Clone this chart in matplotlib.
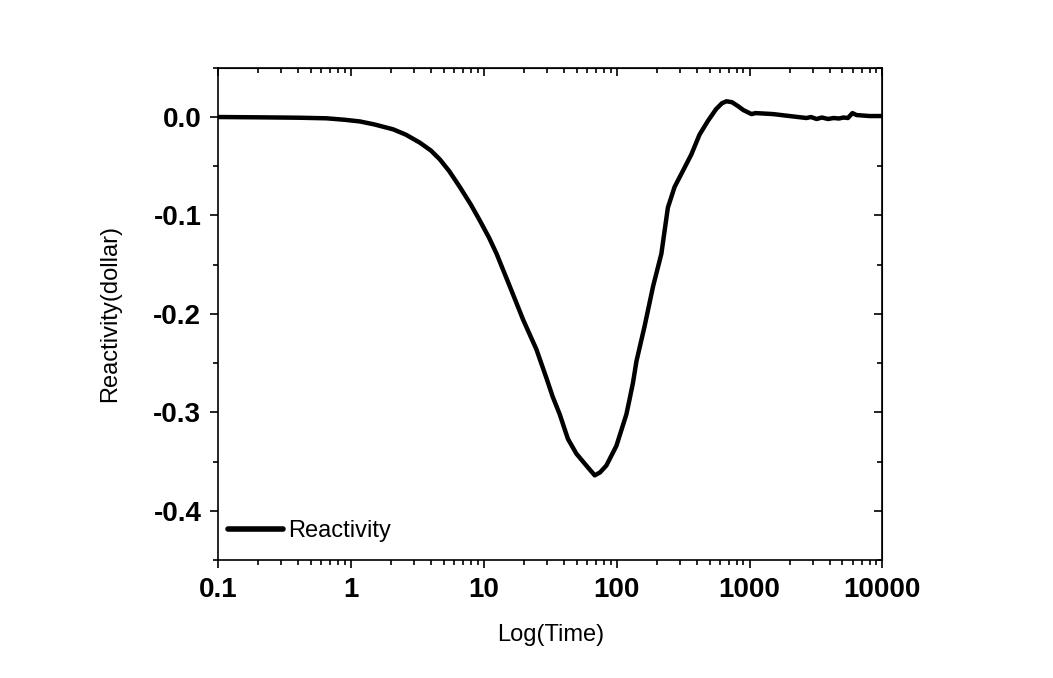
import numpy as np
import matplotlib
matplotlib.use("Agg")
import matplotlib.pyplot as plt
from matplotlib.ticker import LogLocator, MultipleLocator, FixedLocator, FixedFormatter

# reactivity transient (time in s, reactivity in dollars)
time = [0.1, 0.2, 0.4, 0.656, 0.9, 1.17, 1.5, 2.08, 2.6, 3.3, 4.0, 4.67,
        5.5, 6.6, 8.0, 9.33, 11.0, 12.5, 15.7, 19.8, 24.9, 29.6, 33.0,
        37.3, 43.0, 49.8, 59.1, 68.4, 75.0, 83.7, 99.6, 118.4, 125.0,
        132.7, 141.0, 162.0, 188.0, 217.0, 243.0, 273.0, 320.0, 365.0,
        420.0, 486.0, 560.0, 620.0, 671.0, 740.0, 820.0, 900.0, 1035.0,
        1110.0, 1500.0, 2000.0, 2680.0, 2900.0, 3200.0, 3500.0, 3900.0,
        4300.0, 4700.0, 5100.0, 5500.0, 5950.0, 6380.0, 8000.0, 10000.0]
reactivity = [0.000, -0.0003, -0.0007, -0.0013, -0.0028, -0.0045, -0.0075,
              -0.0125, -0.018, -0.026, -0.034, -0.043,
              -0.055, -0.071, -0.089, -0.105, -0.123, -0.139, -0.172,
              -0.206, -0.236, -0.265, -0.284,
              -0.302, -0.327, -0.342, -0.354, -0.364, -0.361, -0.354,
              -0.334, -0.302, -0.287,
              -0.270, -0.248, -0.213, -0.172, -0.139, -0.092, -0.071,
              -0.053, -0.038,
              -0.018, -0.004, 0.008, 0.014, 0.016, 0.015, 0.011, 0.007,
              0.003, 0.004, 0.003, 0.001, -0.001, 0.000, -0.002,
              -0.0005, -0.002, -0.001, -0.0015, -0.0005, -0.001, 0.004,
              0.002, 0.001, 0.001]

x_ticks = [0.1, 1, 10, 100, 1000, 10000]
x_labels = ["0.1", "1", "10", "100", "1000", "10000"]
y_ticks = [0.0, -0.1, -0.2, -0.3, -0.4]
y_labels = ["0.0", "-0.1", "-0.2", "-0.3", "-0.4"]

plt.rcParams["font.family"] = ["Liberation Sans", "DejaVu Sans"]

fig = plt.figure(figsize=(10.53, 6.78), dpi=100)
ax = fig.add_axes([0.207, 0.174, 0.631, 0.726])

ax.plot(time, reactivity, color="black", lw=3.2, label="Reactivity",
        solid_capstyle="round", solid_joinstyle="round")

ax.set_xscale("log")
ax.set_xlim(0.1, 10000)
ax.set_ylim(-0.45, 0.05)

ax.xaxis.set_major_locator(FixedLocator(x_ticks))
ax.xaxis.set_major_formatter(FixedFormatter(x_labels))
ax.xaxis.set_minor_locator(LogLocator(base=10, subs=np.arange(2, 10)))
ax.yaxis.set_major_locator(FixedLocator(y_ticks))
ax.yaxis.set_major_formatter(FixedFormatter(y_labels))
ax.yaxis.set_minor_locator(MultipleLocator(0.05))

for s in ax.spines.values():
    s.set_linewidth(1.2)

ax.tick_params(which="both", left=True, bottom=True, top=False, right=False,
               direction="out", width=1.2)
ax.tick_params(which="major", length=6, labelsize=20, pad=6)
ax.tick_params(which="minor", length=3.5)
for lab in ax.get_xticklabels() + ax.get_yticklabels():
    lab.set_fontweight("bold")

# inward mirrored ticks on top and right
axt = ax.secondary_xaxis("top")
axt.set_xticks(x_ticks)
axt.xaxis.set_minor_locator(LogLocator(base=10, subs=np.arange(2, 10)))
axt.tick_params(which="both", direction="in", labeltop=False, width=1.2)
axt.tick_params(which="major", length=6)
axt.tick_params(which="minor", length=3.5)
axt.set_xticklabels([])
axr = ax.secondary_yaxis("right")
axr.set_yticks(y_ticks)
axr.yaxis.set_minor_locator(MultipleLocator(0.05))
axr.tick_params(which="both", direction="in", labelright=False, width=1.2)
axr.tick_params(which="major", length=6)
axr.tick_params(which="minor", length=3.5)
axr.set_yticklabels([])

ax.set_xlabel("Log(Time)", fontsize=17, labelpad=15)
ax.set_ylabel("Reactivity(dollar)", fontsize=17, labelpad=23)

leg = ax.legend(loc="center left", bbox_to_anchor=(0.015, 0.059),
                frameon=False, fontsize=17, handlelength=2.35,
                handletextpad=0.2, borderpad=0, borderaxespad=0)
for h in leg.get_lines():
    h.set_linewidth(4.0)

fig.savefig("out.png", dpi=100)
